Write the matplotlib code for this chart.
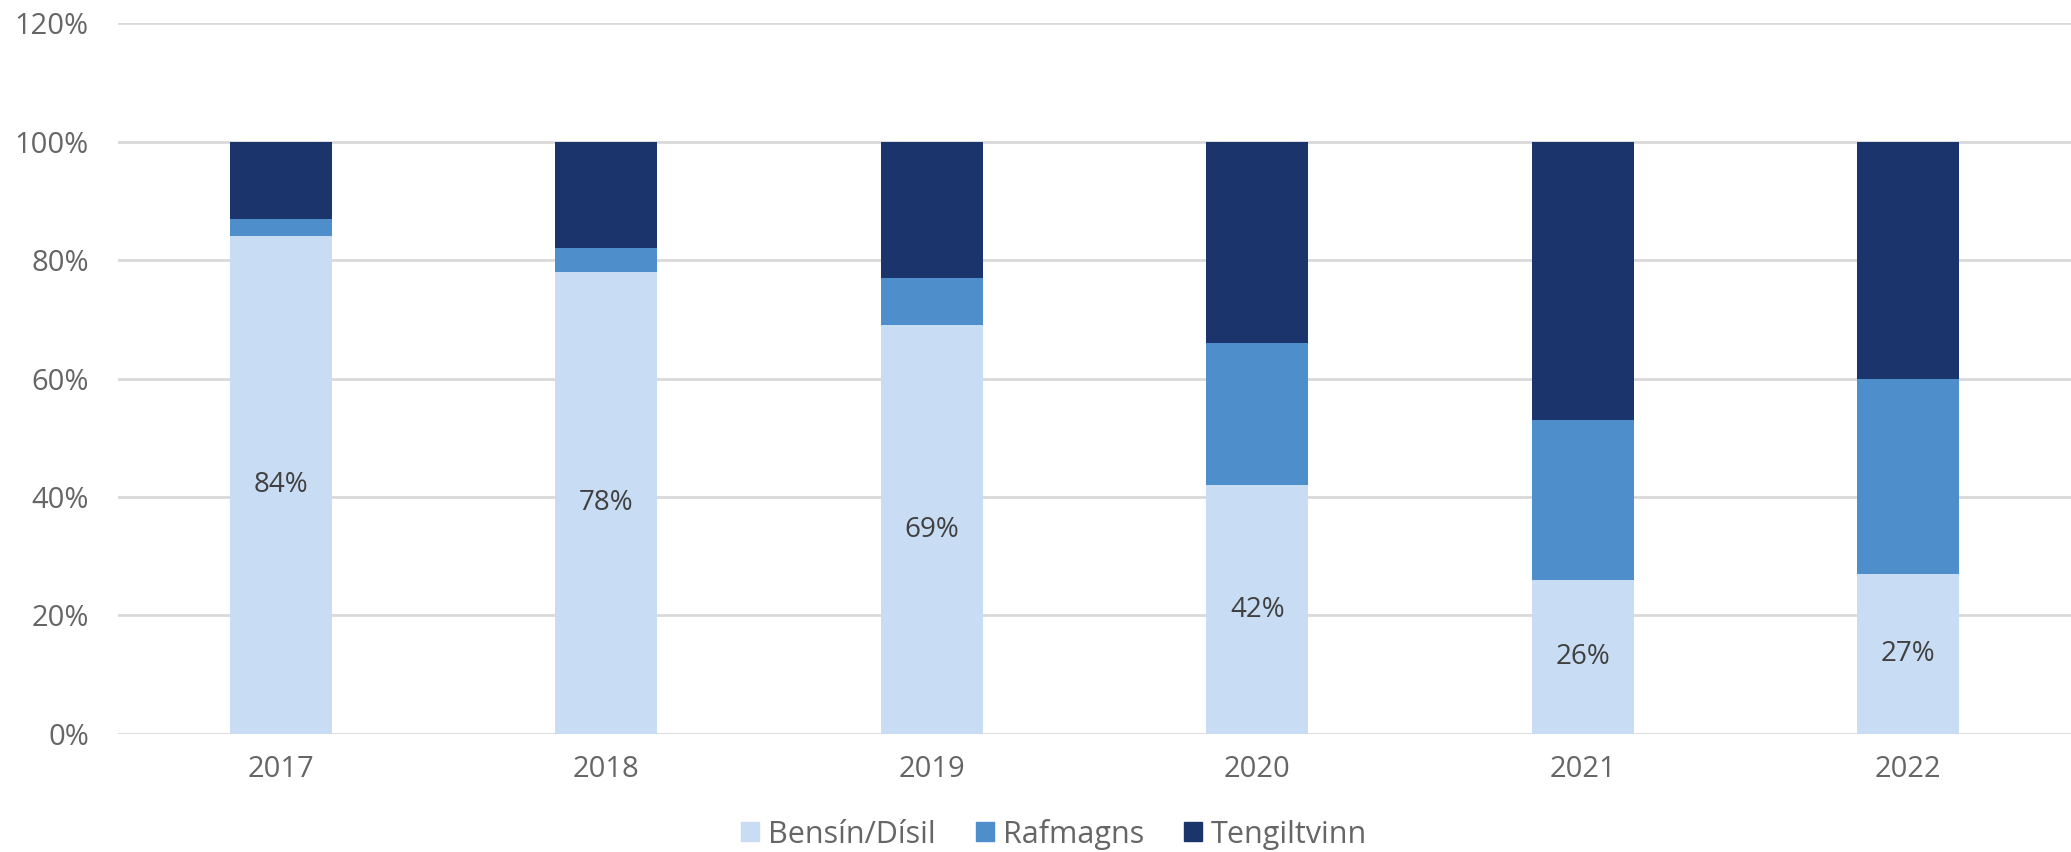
import numpy as np
import matplotlib.pyplot as plt
from matplotlib.patches import Patch

years = ["2017", "2018", "2019", "2020", "2021", "2022"]
bensin = [84, 78, 69, 42, 26, 27]
rafmagns = [3, 4, 8, 24, 27, 33]
tengiltvinn = [13, 18, 23, 34, 47, 40]

labels = ["Bensín/Dísil", "Rafmagns", "Tengiltvinn"]
colors = ["#C8DDF4", "#4E8ECB", "#1B346B"]

plt.rcParams['font.family'] = ['Open Sans', 'DejaVu Sans']

fig = plt.figure(figsize=(20.71, 8.52), dpi=100)
ax = fig.add_axes([0.057, 0.1385, 0.943, 0.8345])

x = np.arange(len(years))
w = 0.313
ax.bar(x, bensin, w, color=colors[0], zorder=2)
bottom2 = np.array(bensin)
ax.bar(x, rafmagns, w, bottom=bottom2, color=colors[1], zorder=2)
bottom3 = bottom2 + np.array(rafmagns)
ax.bar(x, tengiltvinn, w, bottom=bottom3, color=colors[2], zorder=2)

# etiquetas dentro da barra clara
for xi, v in zip(x, bensin):
    ax.text(xi, v / 2, f"{v}%", ha="center", va="center", fontsize=20,
            color="#404040")

ax.set_xlim(-0.5, len(years) - 0.5)
ax.set_ylim(0, 120)
ax.set_yticks(np.arange(0, 121, 20))
ax.set_yticklabels([f"{t}%" for t in range(0, 121, 20)])
ax.set_xticks(x)
ax.set_xticklabels(years)
ax.grid(axis="y", color="#D9D9D9", linewidth=2, zorder=0)
for s in ax.spines.values():
    s.set_visible(False)
ax.tick_params(axis="both", length=0, labelsize=21, colors="#666666")
ax.tick_params(axis="y", pad=21)
ax.tick_params(axis="x", pad=15)

handles = [Patch(color=c, label=l) for c, l in zip(colors, labels)]
leg = fig.legend(handles=handles, loc="center", bbox_to_anchor=(0.509, 0.021),
                 ncol=3, frameon=False, fontsize=22, handlelength=0.59,
                 handleheight=0.59, handletextpad=0.3, columnspacing=1.3,
                 borderpad=0, borderaxespad=0)
for t in leg.get_texts():
    t.set_color("#666666")

fig.savefig("out.png", dpi=100)
